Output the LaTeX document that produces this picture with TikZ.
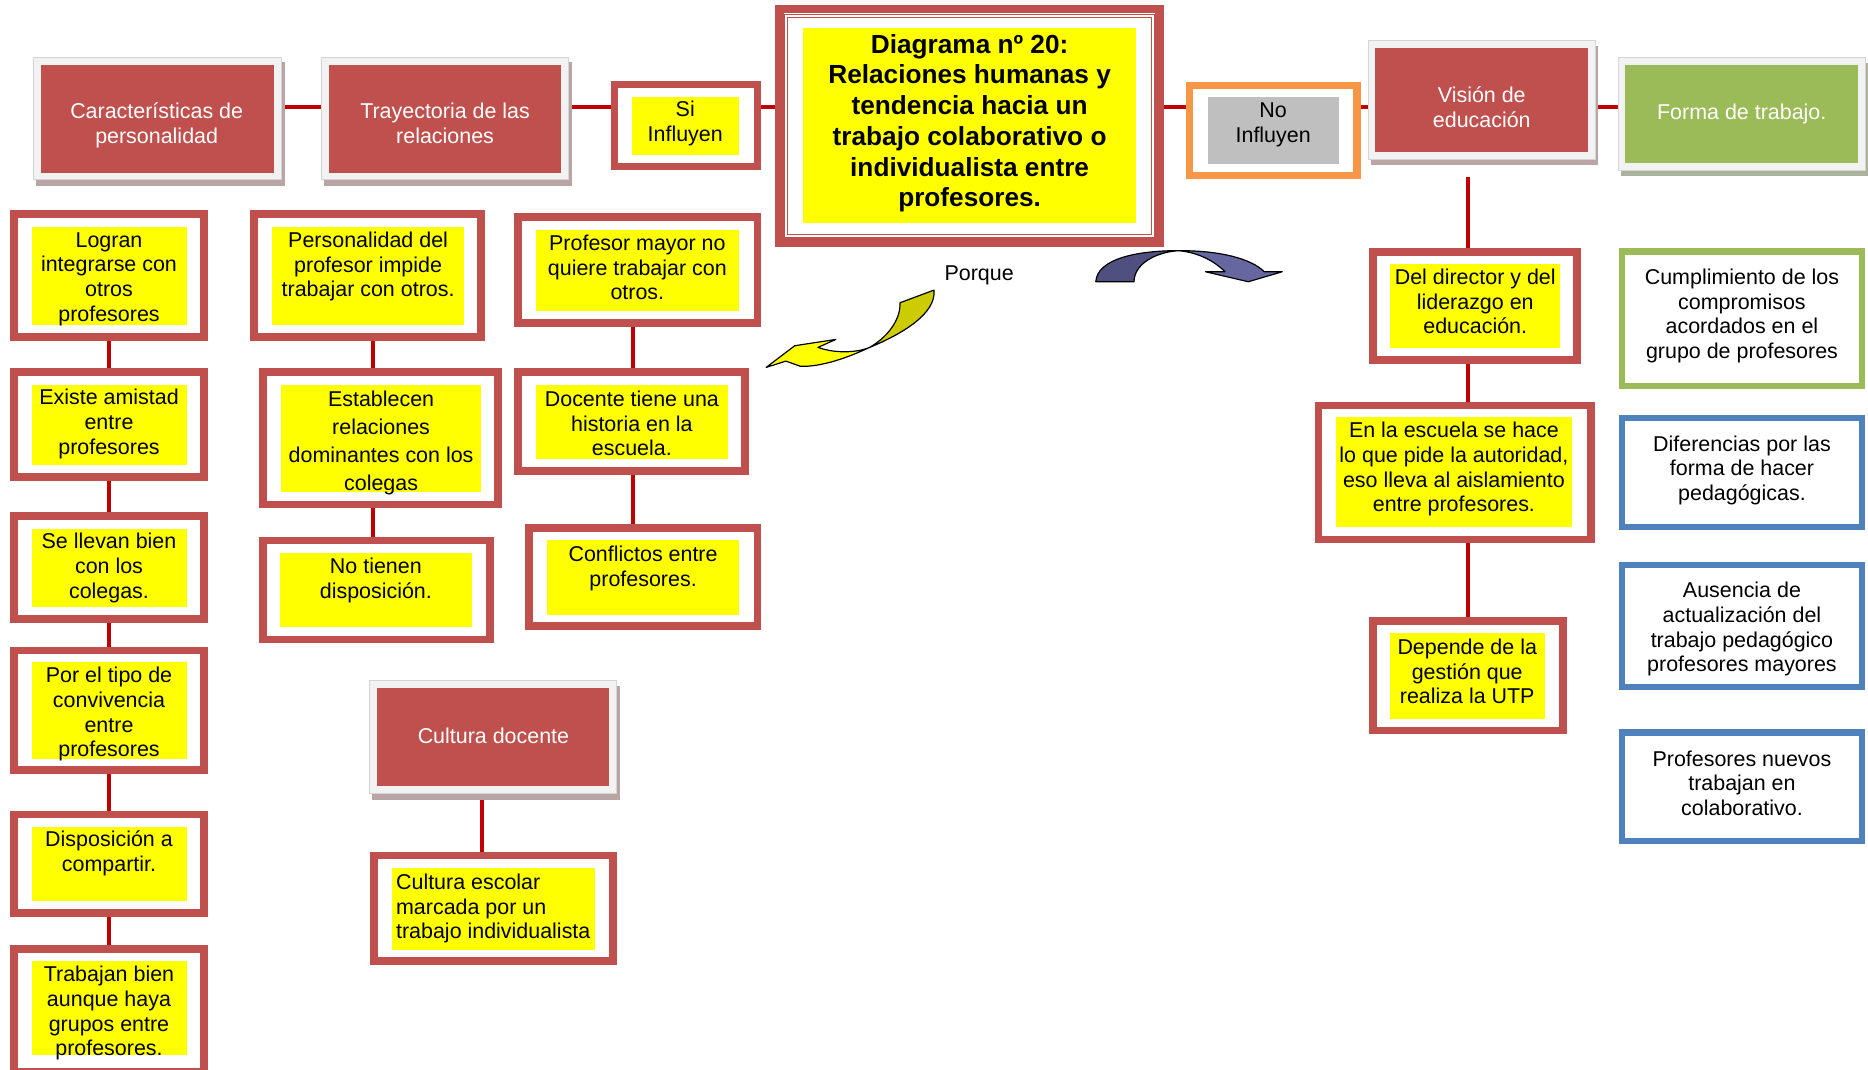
\documentclass[tikz,border=0pt]{standalone}
\usepackage{fontspec}
\setmainfont{Liberation Sans}
\usetikzlibrary{backgrounds}

\definecolor{rbord}{HTML}{C0504D}
\definecolor{linkred}{HTML}{C00000}
\definecolor{ylw}{HTML}{FFFF00}
\definecolor{grn}{HTML}{9BBB59}
\definecolor{blu}{HTML}{4F81BD}
\definecolor{org}{HTML}{F79646}
\definecolor{gry}{HTML}{BFBFBF}
\definecolor{frm}{HTML}{F2F2F2}
\definecolor{shd}{HTML}{B9A5A5}
\definecolor{shdg}{HTML}{ABB29E}
\definecolor{oliv}{HTML}{CCCC00}
\definecolor{bdark}{HTML}{4F5080}
\definecolor{blight}{HTML}{6667A0}

% rectangle node given by its outer extents: name, style, x1, y1, x2, y2, line width
\newcommand\boxnode[7]{%
  \node[#2, line width=#7pt, outer sep=#7/2, minimum width={#5-#3-#7}, minimum height={#6-#4-#7}]
    (#1) at ({(#3+#5)/2},{(#4+#6)/2}) {};}

\tikzset{
  every node/.style={inner sep=0pt},
  redbox/.style={draw=rbord, fill=white},
  grnbox/.style={draw=grn, fill=white},
  blubox/.style={draw=blu, fill=white},
  orgbox/.style={draw=org, fill=white},
  yfill/.style={fill=ylw},
  gfill/.style={fill=gry},
  frame/.style={fill=frm, draw=frm!88!black},
  shadow/.style={fill=shd},
  link/.style={draw=linkred, line width=3.2pt},
  txt/.style={anchor=north, align=center, yshift=-1pt, font=\fontsize{18}{20.7}\selectfont, text=black},
  htxt/.style={txt, text=white},
  arrowline/.style={draw=black, line width=1pt, line join=round},
}

\begin{document}
\begin{tikzpicture}[x=1pt,y=-1pt]
\useasboundingbox (0,0) rectangle (1568,898);

% ---------- header row ----------
\boxnode{car-s}{shadow}{30.3}{52.4}{238.9}{155.9}{0}
\boxnode{car}{frame}{27.8}{47.6}{236.4}{151.1}{0.6}
\boxnode{car-in}{fill=rbord}{34.3}{54.6}{230}{145}{0}
\node[htxt] (car-t) at (131.5,84) {\strut Características de\\personalidad};

\boxnode{tray-s}{shadow}{272.3}{52.4}{480}{155.9}{0}
\boxnode{tray}{frame}{269.8}{47.6}{477.5}{151.1}{0.6}
\boxnode{tray-in}{fill=rbord}{276.2}{54.6}{471}{145}{0}
\node[htxt] (tray-t) at (373.6,84) {\strut Trayectoria de las\\relaciones};

\boxnode{si}{redbox}{512.6}{67.7}{639}{142.7}{6.3}
\boxnode{si-y}{yfill}{530.2}{81.1}{620.1}{130.1}{0}
\node[txt] (si-t) at (575.2,82) {\strut Si\\Influyen};

% title box with double inner rule
\boxnode{dia}{redbox}{650.8}{4.2}{976.8}{207}{7}
\draw[rbord, line width=0.9pt] (658.8,12.2) rectangle (968.8,199);
\draw[rbord, line width=0.9pt] (661.3,14.7) rectangle (966.3,196.5);
\boxnode{dia-y}{yfill}{674}{23.8}{953.7}{187.5}{0}
\node[txt, font=\bfseries\fontsize{22}{25.8}\selectfont] (dia-t) at (813.9,25.4)
  {\strut Diagrama nº 20:\\Relaciones humanas y\\tendencia hacia un\\trabajo colaborativo o\\individualista entre\\profesores.};

\boxnode{no}{orgbox}{995.6}{68.6}{1142}{150.5}{6}
\boxnode{no-g}{gfill}{1013.8}{81.1}{1123.6}{137.7}{0}
\node[txt] (no-t) at (1068.7,82.8) {\strut No\\Influyen};

\boxnode{vis-s}{shadow}{1150.9}{38.4}{1341.6}{138.5}{0}
\boxnode{vis}{frame}{1148.4}{33.6}{1339.1}{133.7}{0.6}
\boxnode{vis-in}{fill=rbord}{1154.5}{40.6}{1333}{127.3}{0}
\node[htxt] (vis-t) at (1243.8,70.7) {\strut Visión de\\educación};

\boxnode{for-s}{fill=shdg}{1360.7}{52.9}{1568.2}{148.1}{0}
\boxnode{for}{frame}{1358.2}{48.1}{1565.7}{143.3}{0.6}
\boxnode{for-in}{fill=grn}{1364.3}{54.6}{1559.6}{137.1}{0}
\node[htxt] (for-t) at (1462,84.7) {\strut Forma de trabajo.};

% ---------- first column ----------
\boxnode{logr}{redbox}{8.4}{176.3}{174.6}{286}{6.5}
\boxnode{logr-y}{yfill}{26.5}{190.3}{156.6}{272.8}{0}
\node[txt] (logr-t) at (91.5,191.9) {\strut Logran\\integrarse con\\otros\\profesores};

\boxnode{exis}{redbox}{8.4}{309.2}{174.6}{403.5}{6.5}
\boxnode{exis-y}{yfill}{26.5}{323.2}{156.6}{390.3}{0}
\node[txt] (exis-t) at (91.5,324) {\strut Existe amistad\\entre\\profesores};

\boxnode{sell}{redbox}{8.4}{430}{174.6}{522.7}{6.5}
\boxnode{sell-y}{yfill}{26.5}{444}{156.6}{509.2}{0}
\node[txt] (sell-t) at (91.5,445) {\strut Se llevan bien\\con los\\colegas.};

\boxnode{port}{redbox}{8.4}{542.8}{174.6}{649.7}{6.5}
\boxnode{port-y}{yfill}{26.5}{556}{156.6}{637.1}{0}
\node[txt] (port-t) at (91.5,557.6) {\strut Por el tipo de\\convivencia\\entre\\profesores};

\boxnode{disp}{redbox}{8.4}{680.5}{174.6}{769.4}{6.5}
\boxnode{disp-y}{yfill}{26.5}{694.5}{156.6}{756.3}{0}
\node[txt] (disp-t) at (91.5,695) {\strut Disposición a\\compartir.};

\boxnode{trab}{redbox}{8.4}{793.3}{174.6}{903}{6.5}
\boxnode{trab-y}{yfill}{26.5}{806.7}{156.6}{885.6}{0}
\node[txt] (trab-t) at (91.5,808.5) {\strut Trabajan bien\\aunque haya\\grupos entre\\profesores.};

% ---------- second column ----------
\boxnode{pers}{redbox}{210}{176.3}{407.2}{286}{6.5}
\boxnode{pers-y}{yfill}{228.4}{190.3}{389.6}{272.8}{0}
\node[txt] (pers-t) at (309,192) {\strut Personalidad del\\profesor impide\\trabajar con otros.};

\boxnode{esta}{redbox}{217.2}{309.2}{421}{426.7}{6.5}
\boxnode{esta-y}{yfill}{236}{323.2}{403.8}{412.7}{0}
\node[txt, font=\fontsize{18}{23.6}\selectfont] (esta-t) at (319.9,323.4)
  {\strut Establecen\\relaciones\\dominantes con los\\colegas};

\boxnode{noti}{redbox}{217.2}{450.5}{414.3}{540}{6.5}
\boxnode{noti-y}{yfill}{235.1}{463.9}{395.9}{526}{0}
\node[txt] (noti-t) at (315.5,466.1) {\strut No tienen\\disposición.};

% ---------- third column ----------
\boxnode{prof}{redbox}{431.4}{179.1}{639}{274.2}{6.5}
\boxnode{prof-y}{yfill}{449.8}{193.1}{620.2}{261.1}{0}
\node[txt] (prof-t) at (535,194.7) {\strut Profesor mayor no\\quiere trabajar con\\otros.};

\boxnode{doce}{redbox}{431.4}{309.2}{628.5}{398.7}{6.5}
\boxnode{doce-y}{yfill}{449.8}{323.2}{611}{385.3}{0}
\node[txt] (doce-t) at (530.4,325.4) {\strut Docente tiene una\\historia en la\\escuela.};

\boxnode{conf}{redbox}{440.6}{439.9}{639}{528.8}{6.5}
\boxnode{conf-y}{yfill}{459.4}{453.3}{620.2}{516.2}{0}
\node[txt] (conf-t) at (539.8,455.5) {\strut Conflictos entre\\profesores.};

% ---------- school culture ----------
\boxnode{cul-s}{shadow}{312.2}{575.6}{520.3}{671.3}{0}
\boxnode{cul}{frame}{309.7}{570.8}{517.8}{666.5}{0.6}
\boxnode{cul-in}{fill=rbord}{316.7}{577.8}{511.6}{659.5}{0}
\node[htxt] (cul-t) at (414.2,608) {\strut Cultura docente};

\boxnode{ces}{redbox}{310.8}{714.9}{517.5}{810}{6.5}
\boxnode{ces-y}{yfill}{328.9}{728.9}{499.4}{797.4}{0}
\node[txt, anchor=north west, align=left] (ces-t) at (332.3,731)
  {\strut Cultura escolar\\marcada por un\\trabajo individualista};

% ---------- vision column ----------
\boxnode{dir}{redbox}{1149}{208.5}{1327}{305.5}{6.5}
\boxnode{dir-y}{yfill}{1167}{221.6}{1309.5}{292.4}{0}
\node[txt] (dir-t) at (1238.3,223.2) {\strut Del director y del\\liderazgo en\\educación.};

\boxnode{esc}{redbox}{1103.4}{337.2}{1338.5}{456}{6.5}
\boxnode{esc-y}{yfill}{1121.6}{350.3}{1319.2}{442.1}{0}
\node[txt] (esc-t) at (1220.4,351.9) {\strut En la escuela se hace\\lo que pide la autoridad,\\eso lleva al aislamiento\\entre profesores.};

\boxnode{dep}{redbox}{1149}{518.2}{1315.5}{616.4}{6.5}
\boxnode{dep-y}{yfill}{1166.6}{531.6}{1296.6}{603.5}{0}
\node[txt] (dep-t) at (1231.6,533.8) {\strut Depende de la\\gestión que\\realiza la UTP};

% ---------- work form column ----------
\boxnode{cump}{grnbox}{1358.7}{208.5}{1565.7}{326.8}{5.2}
\node[txt] (cump-t) at (1462.2,223.2) {\strut Cumplimiento de los\\compromisos\\acordados en el\\grupo de profesores};

\boxnode{dife}{blubox}{1358.7}{348.4}{1565.7}{444.9}{5.2}
\node[txt] (dife-t) at (1462.2,363.1) {\strut Diferencias por las\\forma de hacer\\pedagógicas.};

\boxnode{ause}{blubox}{1358.7}{471.5}{1565.7}{579.2}{5.2}
\node[txt] (ause-t) at (1462.2,486.2) {\strut Ausencia de\\actualización del\\trabajo pedagógico\\profesores mayores};

\boxnode{nuev}{blubox}{1358.7}{612.2}{1565.7}{708.5}{5.2}
\node[txt] (nuev-t) at (1462.2,627.5) {\strut Profesores nuevos\\trabajan en\\colaborativo.};

% ---------- "Porque" and curved arrows ----------
\node[font=\fontsize{18}{20.7}\selectfont] (porque) at (821.9,231.5) {Porque};

% yellow ribbon arrow: darker back half, bright front half with head
\fill[oliv, arrowline] (755.5,254.1) .. controls (756,266) and (748,281) .. (730,291.6)
  .. controls (758,280) and (786,263) .. (784,243.5) -- cycle;
\fill[ylw, arrowline] (730,291.6) .. controls (712,300) and (690,308) .. (672,307.5)
  -- (659.6,303.1) -- (643.1,308.4) -- (667.1,290.2) -- (701.6,284.9) -- (686.6,291.6)
  .. controls (700,296.5) and (718,296.5) .. (730,291.6) -- cycle;

% blue arch arrow
\fill[bdark, arrowline] (919.8,236.5) .. controls (921,217) and (955,210.3) .. (989.4,210.4)
  .. controls (971,211.5) and (952,221) .. (951.9,236.5) -- cycle;
\fill[blight, arrowline] (989.4,210.4) .. controls (1024,210.3) and (1050,217) .. (1061.3,228.1)
  -- (1076.3,228.1) -- (1047.8,236.5) -- (1011.9,228.1) -- (1028.3,228.1)
  .. controls (1018,218) and (1005,212) .. (989.4,210.4) -- cycle;

% ---------- connectors ----------
\begin{scope}[on background layer]
  \fill[white] (0,0) rectangle (1568,898);
  \coordinate (hy) at (0,90.1);
  \draw[link] (car.east |- hy) -- (tray.west |- hy);
  \draw[link] (tray.east |- hy) -- (si.west |- hy);
  \draw[link] (si.east |- hy) -- (dia.west |- hy);
  \draw[link] (dia.east |- hy) -- (no.west |- hy);
  \draw[link] (no.east |- hy) -- (vis.west |- hy);
  \draw[link] (vis.east |- hy) -- (for.west |- hy);

  \draw[link] (logr.south) -- (exis.north);
  \draw[link] (exis.south) -- (sell.north);
  \draw[link] (sell.south) -- (port.north);
  \draw[link] (port.south) -- (disp.north);
  \draw[link] (disp.south) -- (trab.north);

  \coordinate (c2) at (313.2,0);
  \draw[link] (pers.south -| c2) -- (esta.north -| c2);
  \draw[link] (esta.south -| c2) -- (noti.north -| c2);

  \coordinate (c3) at (531.2,0);
  \draw[link] (prof.south -| c3) -- (doce.north -| c3);
  \draw[link] (doce.south -| c3) -- (conf.north -| c3);

  \coordinate (c4) at (404.4,0);
  \draw[link] (cul.south -| c4) -- (ces.north -| c4);

  \coordinate (vtop) at (1232.1,148.3);
  \draw[link] (vtop) -- (dir.north -| vtop);
  \draw[link] (dir.south -| vtop) -- (esc.north -| vtop);
  \draw[link] (esc.south -| vtop) -- (dep.north -| vtop);
\end{scope}
\end{tikzpicture}
\end{document}
